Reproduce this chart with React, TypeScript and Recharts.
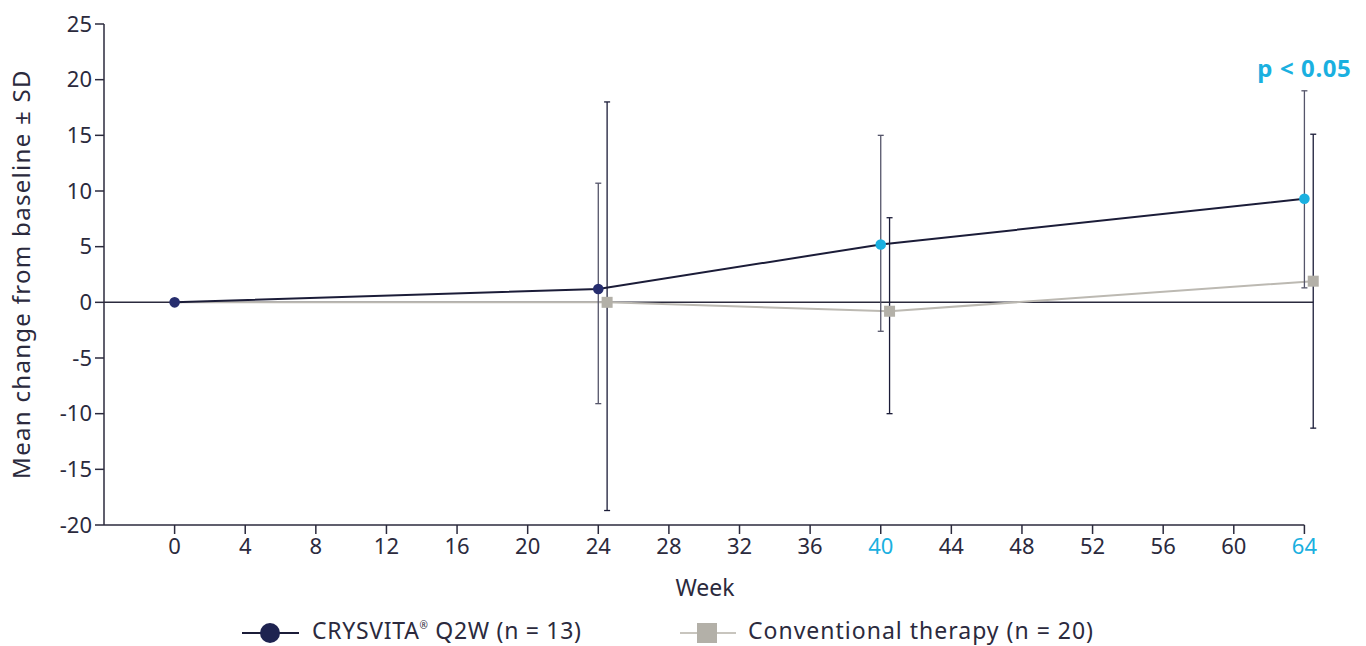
import { LineChart, Line, XAxis, YAxis, ErrorBar, ReferenceLine, ReferenceDot } from "recharts";

const CRYSVITA_WEEKS = [0, 24, 40, 64];
const CRYSVITA_MEAN = [0, 1.2, 5.2, 9.3];
const CRYSVITA_SD_LOW = [0, 10.3, 7.8, 8.0];
const CRYSVITA_SD_HIGH = [0, 9.5, 9.8, 9.7];

const CONV_WEEKS = [0, 24.5, 40.5, 64.5];
const CONV_MEAN = [0, 0, -0.8, 1.9];
const CONV_SD_LOW = [0, 18.7, 9.2, 13.2];
const CONV_SD_HIGH = [0, 18.0, 8.4, 13.2];

const X_TICKS = [0, 4, 8, 12, 16, 20, 24, 28, 32, 36, 40, 44, 48, 52, 56, 60, 64];
const Y_TICKS = [-20, -15, -10, -5, 0, 5, 10, 15, 20, 25];
const HIGHLIGHT_WEEKS = [40, 64];

const FONT = "'Noto Sans', sans-serif";
const TEXT = "#2b2a3d";
const NAVY_LINE = "#1b1c38";
const NAVY_DOT = "#262d6e";
const CYAN = "#1ab0e0";
const GRAY_LINE = "#bcb9b2";
const GRAY_SQUARE = "#b3b0a8";
const ERR = "#55556a";

const crysvita = CRYSVITA_WEEKS.map((week, i) => ({
  week,
  value: CRYSVITA_MEAN[i],
  err: [CRYSVITA_SD_LOW[i], CRYSVITA_SD_HIGH[i]],
}));

const conventional = CONV_WEEKS.map((week, i) => ({
  week,
  value: CONV_MEAN[i],
  err: [CONV_SD_LOW[i], CONV_SD_HIGH[i]],
}));

function CircleDot(props: any) {
  const { cx, cy, payload, index } = props;
  if (cx == null || cy == null) return null;
  const fill = HIGHLIGHT_WEEKS.includes(payload.week) ? CYAN : NAVY_DOT;
  return <circle key={`c-${index}`} cx={cx} cy={cy} r={5.3} fill={fill} />;
}

function SquareDot(props: any) {
  const { cx, cy, payload, index } = props;
  if (cx == null || cy == null || payload.week === 0) return null;
  return <rect key={`s-${index}`} x={cx - 5.5} y={cy - 5.5} width={11} height={11} fill={GRAY_SQUARE} />;
}

function WeekTick(props: any) {
  const { x, y, payload } = props;
  const fill = HIGHLIGHT_WEEKS.includes(payload.value) ? CYAN : TEXT;
  return (
    <text x={x} y={y} dy={18} textAnchor="middle" fill={fill} fontSize={22} fontFamily={FONT}>
      {payload.value}
    </text>
  );
}

function Legend() {
  // svg sits at page y 606, row centre at y 27 (page 633)
  return (
    <svg width={1366} height={40} style={{ position: "absolute", left: 0, top: 606 }}>
      <line x1={242} y1={27} x2={299} y2={27} stroke={NAVY_LINE} strokeWidth={2} />
      <circle cx={270} cy={27} r={10} fill="#1e2350" />
      <text x={312} y={33} fill={TEXT} fontSize={23} letterSpacing={0.7} fontFamily={FONT}>
        CRYSVITA
        <tspan fontSize={10} dy={-10}>®</tspan>
        <tspan dy={10}> Q2W (n = 13)</tspan>
      </text>
      <line x1={680} y1={27} x2={736} y2={27} stroke="#c8c5be" strokeWidth={2} />
      <rect x={697} y={17} width={20} height={20} fill={GRAY_SQUARE} />
      <text x={748} y={33} fill={TEXT} fontSize={23} letterSpacing={1.0} fontFamily={FONT}>
        Conventional therapy (n = 20)
      </text>
    </svg>
  );
}

export default function App() {
  return (
    <div style={{ position: "absolute", left: 0, top: 0, width: 1366, height: 646, background: "#fff", fontFamily: FONT }}>
      <LineChart width={1366} height={606} margin={{ top: 24, right: 51, left: 0, bottom: 0 }}>
        <XAxis
          type="number"
          dataKey="week"
          domain={[-4, 64.6]}
          ticks={X_TICKS}
          interval={0}
          height={81}
          axisLine={false}
          tickLine={{ stroke: TEXT, strokeWidth: 1.5 }}
          tickSize={9}
          tick={<WeekTick />}
          label={{
            content: () => (
              <text x={705} y={596} textAnchor="middle" fill={TEXT} fontSize={23} fontFamily={FONT}>
                Week
              </text>
            ),
          }}
        />
        <YAxis
          type="number"
          domain={[-20, 25]}
          ticks={Y_TICKS}
          interval={0}
          width={104}
          axisLine={{ stroke: TEXT, strokeWidth: 1.5 }}
          tickLine={{ stroke: TEXT, strokeWidth: 1.5 }}
          tickSize={9}
          tickMargin={3}
          tick={{ fill: TEXT, fontSize: 22, fontFamily: FONT }}
          label={{
            content: () => (
              <text
                x={30}
                y={274}
                transform="rotate(-90, 30, 274)"
                textAnchor="middle"
                fill={TEXT}
                fontSize={24}
                letterSpacing={1.3}
                fontFamily={FONT}
              >
                Mean change from baseline ± SD
              </text>
            ),
          }}
        />
        <ReferenceLine
          segment={[{ x: -4, y: -20 }, { x: 64, y: -20 }]}
          stroke={TEXT}
          strokeWidth={1.5}
        />
        <ReferenceLine
          segment={[{ x: -4, y: 0 }, { x: 64.5, y: 0 }]}
          stroke={TEXT}
          strokeWidth={1.5}
        />
        <Line
          data={conventional}
          dataKey="value"
          stroke={GRAY_LINE}
          strokeWidth={2}
          dot={<SquareDot />}
          activeDot={false}
          isAnimationActive={false}
        >
          <ErrorBar dataKey="err" direction="y" width={3} stroke={NAVY_LINE} strokeWidth={1.3} />
        </Line>
        <Line
          data={crysvita}
          dataKey="value"
          stroke={NAVY_LINE}
          strokeWidth={2}
          dot={<CircleDot />}
          activeDot={false}
          isAnimationActive={false}
        >
          <ErrorBar dataKey="err" direction="y" width={3} stroke={ERR} strokeWidth={1.3} />
        </Line>
        <ReferenceDot
          x={64}
          y={19.03}
          r={0}
          fill="none"
          stroke="none"
          label={{ value: "p < 0.05", position: "top", offset: 13, fill: CYAN, fontSize: 24, fontWeight: 700, letterSpacing: 0.6, fontFamily: FONT }}
        />
      </LineChart>
      <Legend />
    </div>
  );
}
